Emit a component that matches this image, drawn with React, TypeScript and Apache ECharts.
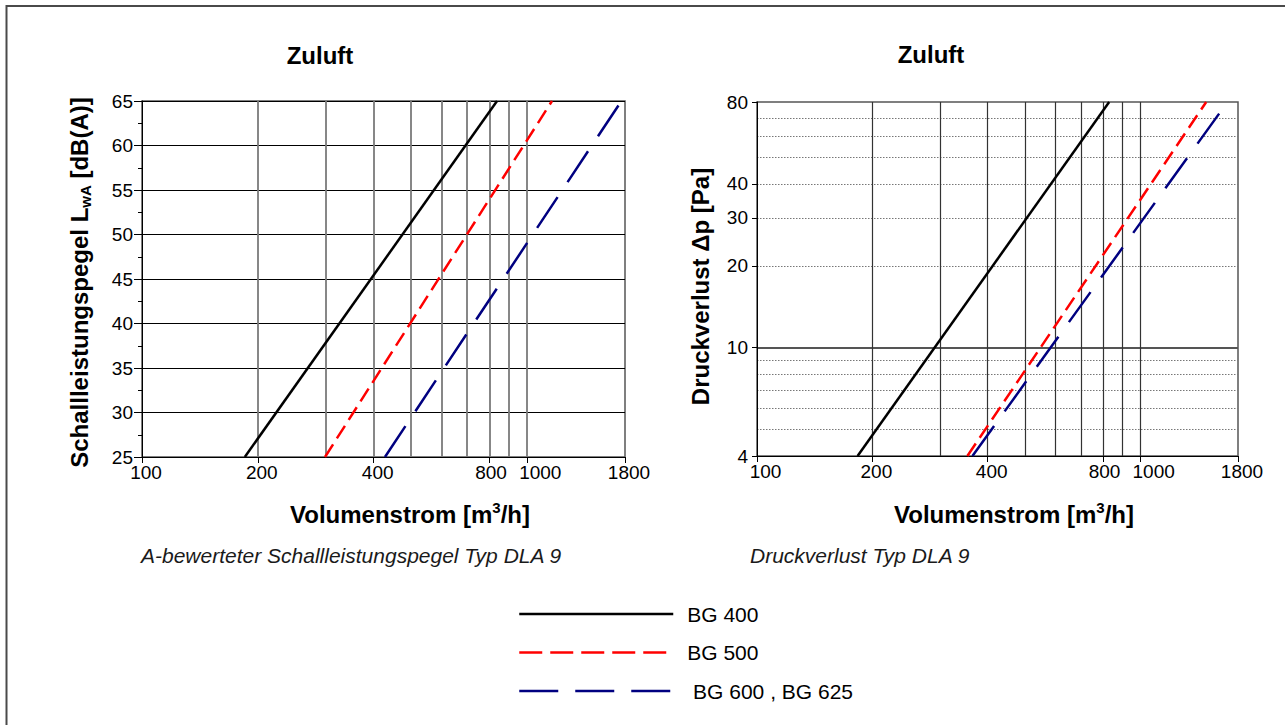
import React, { useEffect, useRef } from "react";
import * as echarts from "echarts";

// ---- data ----
const xLabelValues = [100, 200, 400, 800, 1000, 1800];
const xGridValues = [200, 300, 400, 500, 600, 700, 800, 900, 1000];
const lwaMin = 25;
const lwaMax = 65;
const lwaStep = 5;
const dpLabelValues = [4, 10, 20, 30, 40, 80];
const dpDottedValues = [5, 6, 7, 8, 9, 20, 30, 40, 50, 60, 70];
const dpSolidValues = [10];

const seriesNames = ["BG 400", "BG 500", " BG 600 , BG 625"];

// Schallleistungspegel L_wA [dB(A)] vs Volumenstrom [m3/h]
const lwaBG400 = [[185, 25], [837, 65]];
const lwaBG500 = [[299, 25], [1163, 65]];
const lwaBG600 = [[428, 25], [1762, 65]];

// Druckverlust [Pa] vs Volumenstrom [m3/h]
const dpBG400 = [[183, 4], [830, 80]];
const dpBG500 = [[354, 4], [1487, 80]];
const dpBG600 = [[365, 4], [1690, 80]];

const FONT = '"Liberation Sans", Arial, Helvetica, sans-serif';

const fmt = (v: number) => String(Math.round(v));

// x tick labels: the original draws them slightly right of their ticks, 1000 notably so
const makeFmtX = (firstKey: string) => (v: number) => {
  const n = Math.round(v);
  if (n === 100) return "{" + firstKey + "|" + n + "}";
  if (n === 1000) return "{w|" + n + "}";
  if (n === 800) return "{m|" + n + "}";
  return "{a|" + n + "}";
};
const tok = (pad: number) => ({
  fontSize: 19, fontFamily: FONT, color: "#000", lineHeight: 15, padding: [0, 0, 0, pad],
});
const xLabelRich = { a: tok(8), f: tok(17), m: tok(3), w: tok(27) };

function mainX(gridIndex: number, firstKey: string) {
  return {
    type: "log",
    logBase: 10,
    gridIndex,
    min: 100,
    max: 1800,
    axisLine: { show: true, onZero: false, lineStyle: { color: "#000", width: 1 } },
    axisTick: { show: true, customValues: xLabelValues, length: 6, lineStyle: { color: "#000" } },
    axisLabel: {
      customValues: xLabelValues,
      fontSize: 19,
      color: "#000",
      margin: 7.5,
      lineHeight: 15,
      fontFamily: FONT,
      formatter: makeFmtX(firstKey),
      rich: xLabelRich,
    },
    splitLine: { show: false },
    minorTick: { show: false },
    minorSplitLine: { show: false },
  };
}

function gridLineX(gridIndex: number, color: string, width: number) {
  return {
    type: "log",
    logBase: 10,
    gridIndex,
    min: 100,
    max: 1800,
    axisLine: { show: false },
    axisTick: { show: false, customValues: xGridValues },
    axisLabel: { show: false },
    splitLine: { show: true, lineStyle: { color, width } },
  };
}

function gridLineY(values: number[], color: string, width: number, type: any) {
  return {
    type: "log",
    logBase: 10,
    gridIndex: 1,
    min: 4,
    max: 80,
    axisLine: { show: false },
    axisTick: { show: false, customValues: values },
    axisLabel: { show: false },
    splitLine: { show: true, lineStyle: { color, width, type } },
  };
}

const lineStyles = [
  { color: "#000000", width: 2.5, type: "solid" },
  { color: "#ff0000", width: 2.5, type: [15, 7] },
  { color: "#000080", width: 2.5, type: [37, 18] },
];

function makeSeries(name: string, data: number[][], xi: number, yi: number, idx: number) {
  return {
    type: "line",
    name,
    xAxisIndex: xi,
    yAxisIndex: yi,
    data,
    symbol: "none",
    showSymbol: false,
    silent: true,
    z: 5,
    lineStyle: { ...lineStyles[idx], cap: "butt" },
    itemStyle: { color: lineStyles[idx].color },
  };
}

const boldText = (x: number, y: number, text: string, rotate = false, rich?: any) => ({
  type: "text",
  x,
  y,
  rotation: rotate ? Math.PI / 2 : 0,
  silent: true,
  style: {
    text,
    fill: "#000",
    fontSize: 24,
    fontWeight: "bold",
    fontFamily: FONT,
    lineHeight: 28,
    align: "center",
    verticalAlign: "middle",
    rich,
  },
});

const subRich = {
  sub: { fontSize: 15, fontWeight: "bold", fontFamily: FONT, lineHeight: 13, verticalAlign: "bottom", fill: "#000" },
};
const supRich = {
  sup: { fontSize: 15, fontWeight: "bold", fontFamily: FONT, lineHeight: 15, verticalAlign: "top", fill: "#000" },
};

export default function App() {
  const ref = useRef<HTMLDivElement>(null);

  useEffect(() => {
    if (!ref.current) return;
    const chart = echarts.init(ref.current, null, { renderer: "svg" });
    const option: any = {
      animation: false,
      backgroundColor: "#ffffff",
      textStyle: { fontFamily: FONT },
      grid: [
        {
          left: 142, top: 101, width: 483, height: 356,
          show: true, borderColor: "#555", borderWidth: 1.5, backgroundColor: "transparent",
          containLabel: false, outerBoundsMode: "none",
        },
        {
          left: 757, top: 102, width: 481, height: 354,
          show: true, borderColor: "#555", borderWidth: 1.5, backgroundColor: "transparent",
          containLabel: false, outerBoundsMode: "none",
        },
      ],
      xAxis: [
        mainX(0, "a"),
        gridLineX(0, "#7a7a7a", 1.8),
        mainX(1, "f"),
        gridLineX(1, "#333", 1.2),
      ],
      yAxis: [
        {
          type: "value",
          gridIndex: 0,
          min: lwaMin,
          max: lwaMax,
          interval: lwaStep,
          axisLine: { show: true, onZero: false, lineStyle: { color: "#000", width: 1 } },
          axisTick: { show: true, length: 8, lineStyle: { color: "#000" } },
          minorTick: { show: true, splitNumber: 2, length: 4, lineStyle: { color: "#000" } },
          axisLabel: { fontSize: 19, color: "#000", margin: 9, lineHeight: 15, fontFamily: FONT },
          splitLine: { show: true, lineStyle: { color: "#000", width: 1 } },
          minorSplitLine: { show: false },
        },
        {
          type: "log",
          logBase: 10,
          gridIndex: 1,
          min: 4,
          max: 80,
          axisLine: { show: true, onZero: false, lineStyle: { color: "#000", width: 1 } },
          axisTick: { show: true, customValues: dpLabelValues, length: 5, lineStyle: { color: "#000" } },
          axisLabel: {
            customValues: dpLabelValues,
            fontSize: 19,
            color: "#000",
            margin: 9,
            lineHeight: 15,
            fontFamily: FONT,
            formatter: fmt,
          },
          splitLine: { show: false },
        },
        gridLineY(dpDottedValues, "#777", 1, [1.5, 1.5]),
        gridLineY(dpSolidValues, "#555", 2, "solid"),
      ],
      legend: {
        orient: "vertical",
        left: 518,
        top: 603.5,
        padding: 0,
        itemWidth: 154,
        itemHeight: 21,
        itemGap: 17.5,
        selectedMode: false,
        textStyle: { fontSize: 21, color: "#000", fontFamily: FONT, lineHeight: 21, padding: [0, 0, 0, 9] },
        lineStyle: { width: 2.5 },
        itemStyle: { opacity: 0 },
        data: [
          { name: seriesNames[0] },
          { name: seriesNames[1], lineStyle: { type: [23, 8] } },
          { name: seriesNames[2], lineStyle: { type: [39, 17] } },
        ],
      },
      series: [
        makeSeries(seriesNames[0], lwaBG400, 0, 0, 0),
        makeSeries(seriesNames[1], lwaBG500, 0, 0, 1),
        makeSeries(seriesNames[2], lwaBG600, 0, 0, 2),
        makeSeries(seriesNames[0], dpBG400, 2, 1, 0),
        makeSeries(seriesNames[1], dpBG500, 2, 1, 1),
        makeSeries(seriesNames[2], dpBG600, 2, 1, 2),
      ],
      graphic: [
        {
          type: "rect",
          silent: true,
          shape: { x: 6.5, y: 6, width: 1400, height: 800 },
          style: { fill: "none", stroke: "#4a4a4a", lineWidth: 2 },
        },
        boldText(320, 55, "Zuluft"),
        boldText(931, 54, "Zuluft"),
        boldText(79, 282.5, "Schallleistungspegel L{sub|wA} [dB(A)]", true, subRich),
        boldText(700, 286.5, "Druckverlust Δp [Pa]", true),
        boldText(410, 514, "Volumenstrom [m{sup|3}/h]", false, supRich),
        boldText(1014, 514, "Volumenstrom [m{sup|3}/h]", false, supRich),
        {
          type: "text",
          x: 141,
          y: 555,
          silent: true,
          style: {
            text: "A-bewerteter Schallleistungspegel Typ DLA 9",
            fill: "#1a1a1a",
            fontSize: 21,
            fontStyle: "italic",
            fontFamily: FONT,
            align: "left",
            verticalAlign: "middle",
          },
        },
        {
          type: "text",
          x: 750,
          y: 555,
          silent: true,
          style: {
            text: "Druckverlust Typ DLA 9",
            fill: "#1a1a1a",
            fontSize: 21,
            fontStyle: "italic",
            fontFamily: FONT,
            align: "left",
            verticalAlign: "middle",
          },
        },
      ],
    };
    chart.setOption(option);
    return () => chart.dispose();
  }, []);

  return (
    <div
      ref={ref}
      style={{ position: "absolute", left: 0, top: 0, width: 1285, height: 725, background: "#fff" }}
    />
  );
}
